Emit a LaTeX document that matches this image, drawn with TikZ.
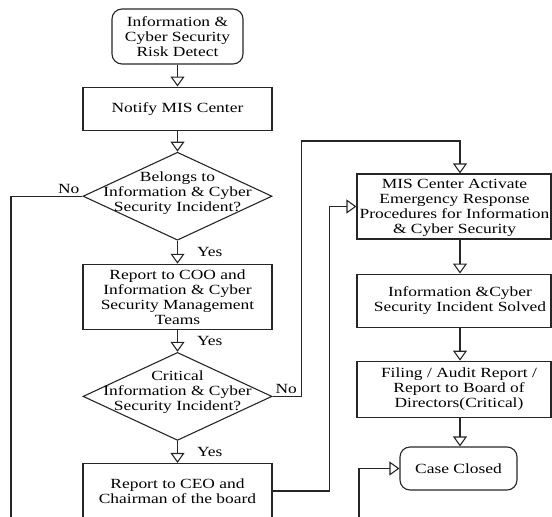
\documentclass[tikz,border=0pt]{standalone}
\usepackage{fontspec}
\setmainfont{Liberation Serif}[FakeStretch=1.245]
\usetikzlibrary{shapes,positioning,arrows.meta,calc}

\begin{document}
\begin{tikzpicture}[
      x=1pt, y=-1pt,
      mybox/.style = {draw=black!85, line width=1.1pt, inner sep=0pt, align=center,
                      font=\fontsize{14}{15}\selectfont},
      term/.style = {mybox, rounded corners=10pt},
      proc/.style = {mybox, minimum width=189pt},
      side/.style = {mybox, minimum width=194pt},
      dec/.style = {diamond, draw=black!85, line width=1.1pt, inner sep=0pt,
                    minimum width=189pt, minimum height=88pt},
      txt/.style = {align=center, inner sep=0pt, font=\fontsize{14}{15}\selectfont},
      rel/.style = {inner sep=0pt, xshift=19pt, font=\fontsize{14}{15}\selectfont},
      no/.style = {inner sep=2.5pt, font=\fontsize{14}{15}\selectfont},
      line/.style = {draw=black!85, line width=1.1pt},
      flow/.style = {line, -{Triangle[open, length=10pt, width=14pt, line width=1.1pt]}},
      node distance = 22pt,
      auto
      ]
      \useasboundingbox (0,0) rectangle (552,517);

      % left column
      \node[term, minimum width=131pt, minimum height=55pt] (start) at (177.5,36.5)
            {Information \&\\Cyber Security\\Risk Detect};
      \node[proc, minimum height=43pt, below=of start] (notify) {Notify MIS Center};
      \node[dec, below=21pt of notify] (belongs) {};
      \node[txt, yshift=3pt] (belongs-t) at (belongs)
            {Belongs to\\Information \& Cyber\\Security Incident?};
      \node[proc, minimum height=65pt, below=23pt of belongs] (coo)
            {Report to COO and\\Information \& Cyber\\Security Management\\Teams};
      \node[dec, below=of coo] (crit) {};
      \node[txt, yshift=4pt] (crit-t) at (crit)
            {Critical\\Information \& Cyber\\Security Incident?};
      \node[proc, minimum height=55pt, below=of crit] (ceo)
            {Report to CEO and\\Chairman of the board};

      % right column (text sits near the arrow line)
      \node[side, minimum height=65pt] (mis) at (454,206.5) {};
      \node[txt, yshift=-1.5pt] (mis-t) at ($(mis)+(0.5,0)$)
            {MIS Center Activate\\Emergency Response\\Procedures for Information\\\& Cyber Security};
      \node[side, minimum height=53pt, below=34pt of mis] (solved) {};
      \node[txt] (solved-t) at ($(solved)+(6,0)$)
            {Information \&Cyber\\Security Incident Solved};
      \node[side, minimum height=56pt, below=33pt of solved] (filing) {};
      \node[txt] (filing-t) at ($(filing)+(5,0)$)
            {Filing / Audit Report /\\Report to Board of\\Directors(Critical)};
      \node[term, minimum width=117pt, minimum height=43pt] (closed) at (458.5,468.5)
            {Case Closed};

      \coordinate (rcol) at (460,141);
      \coordinate (noend) at (11,517);
      \coordinate (back) at (359,517);

      \path[flow] (start) edge (notify);
      \path[flow] (notify) edge (belongs);
      \path[flow] (belongs) edge node[rel] {Yes} (coo);
      \path[flow] (coo) edge node[rel] {Yes} (crit);
      \path[flow] (crit) edge node[rel] {Yes} (ceo);

      \draw[line] (belongs.west) node[no, above left] {No} -| (noend);
      \draw[flow] (crit.east) node[no, above right] {No} -- ++(29,0) |- (rcol)
            -- (mis.north -| rcol);
      \draw[flow] (ceo.east) -- ++(57,0) |- (mis.west);

      \draw[flow] (mis.south -| rcol) -- (solved.north -| rcol);
      \draw[flow] (solved.south -| rcol) -- (filing.north -| rcol);
      \draw[flow] (filing.south -| rcol) -- (closed.north -| rcol);
      \draw[flow] (back) |- (closed.west);
    \end{tikzpicture}
\end{document}
